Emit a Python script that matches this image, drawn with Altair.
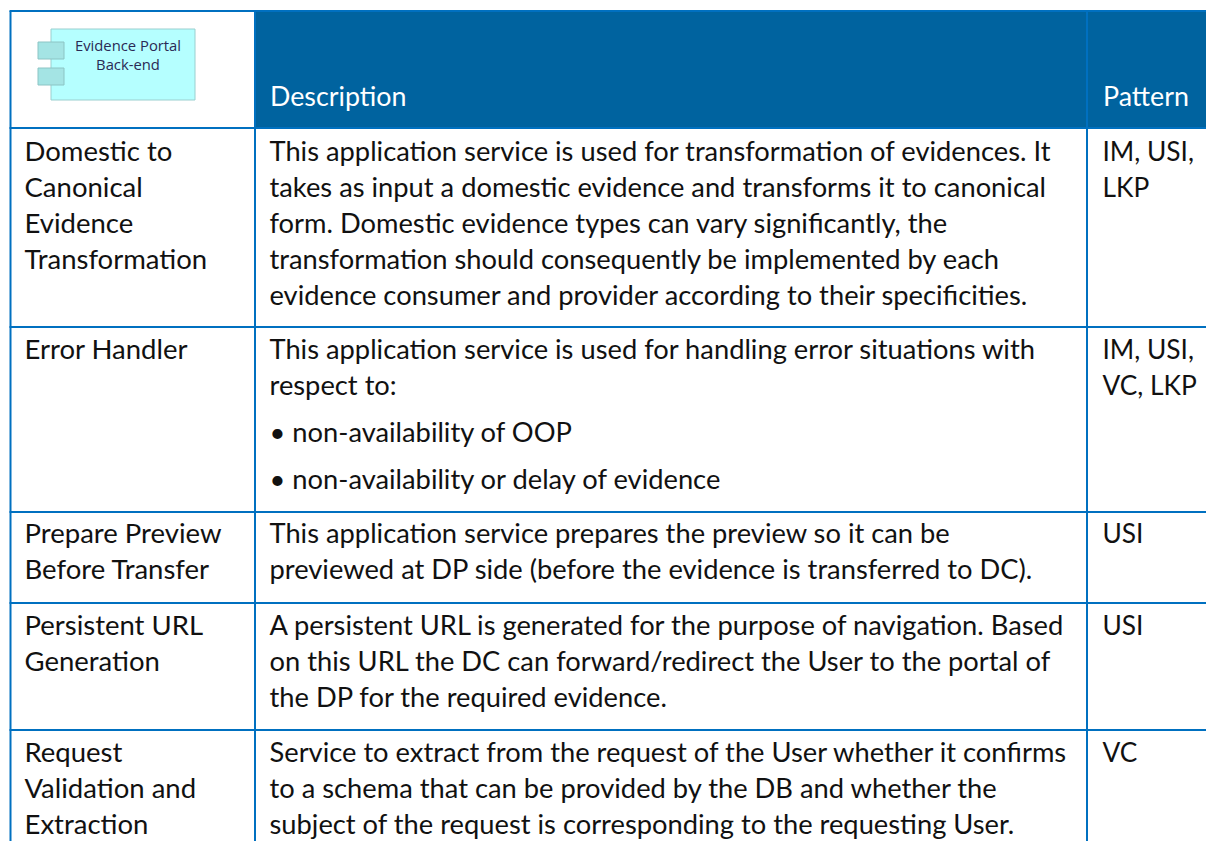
import altair as alt
import pandas as pd

PAGE_W, PAGE_H = 1198, 833
HEADER = "#00639F"
LINE = "#0070C0"
INK = "#111111"

v_lines = [10.5, 255, 1087]
body_left = [
    ("Domestic to", 161), ("Canonical", 197), ("Evidence", 233), ("Transformation", 269),
    ("Error Handler", 359),
    ("Prepare Preview", 543), ("Before Transfer", 579),
    ("Persistent URL", 635), ("Generation", 671),
    ("Request", 762), ("Validation and", 798), ("Extraction", 834),
]
body_mid = [
    ("This application service is used for transformation of evidences. It", 161),
    ("takes as input a domestic evidence and transforms it to canonical", 197),
    ("form. Domestic evidence types can vary significantly, the", 233),
    ("transformation should consequently be implemented by each", 269),
    ("evidence consumer and provider according to their specificities.", 305),
    ("This application service is used for handling error situations with", 359),
    ("respect to:", 395),
    ("• non-availability of OOP", 442),
    ("• non-availability or delay of evidence", 489),
    ("This application service prepares the preview so it can be", 543),
    ("previewed at DP side (before the evidence is transferred to DC).", 579),
    ("A persistent URL is generated for the purpose of navigation. Based", 635),
    ("on this URL the DC can forward/redirect the User to the portal of", 671),
    ("the DP for the required evidence.", 707),
    ("Service to extract from the request of the User whether it confirms", 762),
    ("to a schema that can be provided by the DB and whether the", 798),
    ("subject of the request is corresponding to the requesting User.", 834),
]
body_right = [
    ("IM, USI,", 161), ("LKP", 197),
    ("IM, USI,", 359), ("VC, LKP", 395),
    ("USI", 543), ("USI", 635), ("VC", 762),
]
h_lines = [11, 128, 327, 512, 603, 730]

xs = alt.Scale(domain=[8, 8 + PAGE_W], range=[0, PAGE_W], nice=False, zero=False)
ys = alt.Scale(domain=[8, 8 + PAGE_H], range=[0, PAGE_H], nice=False, zero=False)
X = alt.X("x:Q", scale=xs, axis=None)
Y = alt.Y("y:Q", scale=ys, axis=None)

def rects(rows, **kw):
    return alt.Chart(pd.DataFrame(rows, columns=["x", "x2", "y", "y2"])).mark_rect(**kw).encode(
        x=X, x2="x2:Q", y=Y, y2="y2:Q")

def texts(rows, xpos, size, color, font="Lato", align="left"):
    d = pd.DataFrame(rows, columns=["t", "y"]); d["x"] = xpos
    return alt.Chart(d).mark_text(align=align, baseline="alphabetic", font=font, fontSize=size, color=color).encode(
        x=X, y=Y, text="t:N")

layers = [
    rects([[254, 1206, 11, 128]], color=HEADER),
    rects([[9.5, 1206, y - 1, y + 1] for y in h_lines], color=LINE),
    rects([[x - 1, x + 1, 11, 841] for x in v_lines], color=LINE),
    rects([[51, 195, 29, 100]], color="#B5FFFF", stroke="#9ACFCF", strokeWidth=1),
    rects([[38, 64, 42, 59], [38, 64, 68, 85]], color="#A4E4E4", stroke="#8CC4C4", strokeWidth=1),
    texts([("Evidence Portal", 51), ("Back-end", 70)], 128, 14.8, "#2A2A55", "Open Sans", "center"),
    texts([("Description", 106)], 270, 26.8, "#FFFFFF"),
    texts([("Pattern", 106)], 1103, 26.8, "#FFFFFF"),
    texts(body_left, 24.5, 27.5, INK),
    texts(body_mid, 269.5, 27.3, INK),
    texts(body_right, 1102.5, 26.3, INK),
]
chart = alt.layer(*layers).properties(
    width=PAGE_W, height=PAGE_H, padding=0, autosize=alt.AutoSizeParams(type="none")
).configure_view(stroke=None)
chart.save("out.html", embed_options={"renderer": "svg", "actions": False})
